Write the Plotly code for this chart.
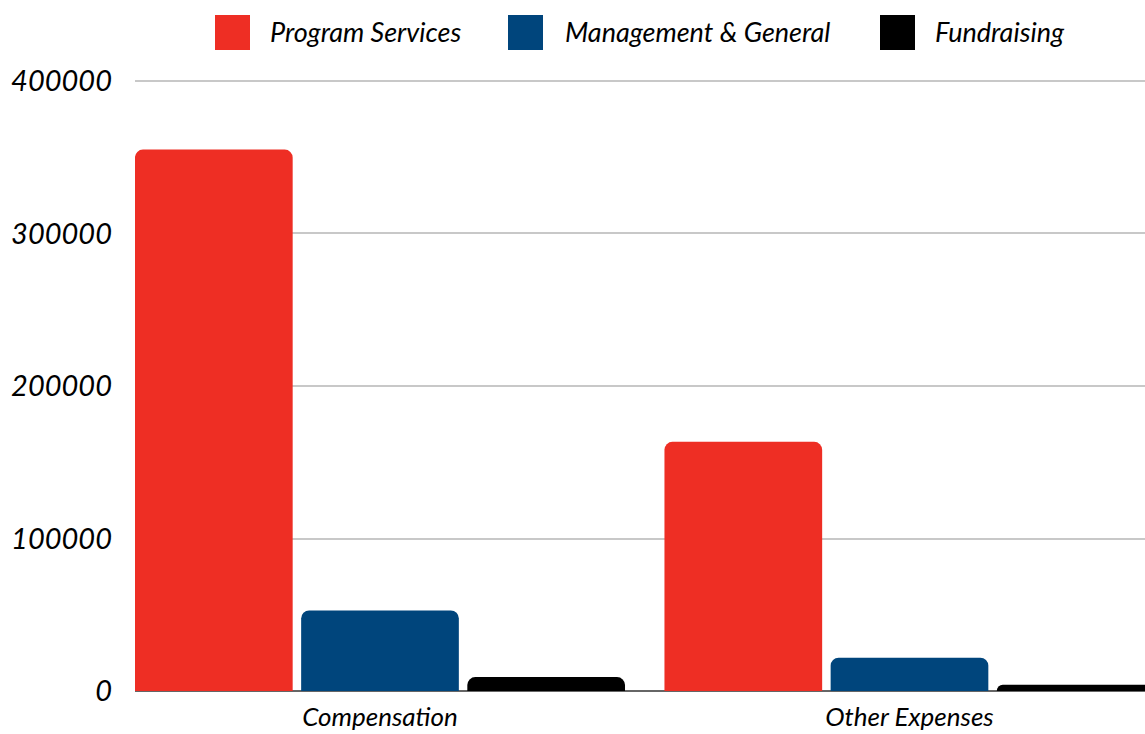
import plotly.graph_objects as go

categories = ["Compensation", "Other Expenses"]
series_names = ["Program Services", "Management & General", "Fundraising"]
program_services = [355000, 163400]
management_general = [52800, 21800]
fundraising = [9100, 4100]
y_ticks = [0, 100000, 200000, 300000, 400000]

colors = ["#EE2E24", "#00457C", "#000000"]
values = [program_services, management_general, fundraising]

W, H = 1145, 734
L, R, T, B = 135, 0, 79, 43
FONT = dict(family="Lato, 'Open Sans', sans-serif", style="italic", color="#000000")

fig = go.Figure()
for name, vals, col in zip(series_names, values, colors):
    fig.add_trace(go.Bar(name=name, x=categories, y=vals,
                         marker=dict(color=col, cornerradius=8, line=dict(width=0)),
                         showlegend=False))

pw, ph = W - L - R, H - T - B
def px(x):
    return (x - L) / pw
def py(y):
    return (H - B - y) / ph

# manual legend (large square swatches), positions in screen pixels
legend_items = [(215, 268), (508, 563), (880, 933)]
for (sx, tx), name, col in zip(legend_items, series_names, colors):
    fig.add_shape(type="rect", xref="paper", yref="paper",
                  x0=px(sx), x1=px(sx + 35), y0=py(50), y1=py(15),
                  fillcolor=col, line=dict(width=0))
    fig.add_annotation(xref="paper", yref="paper", x=px(tx), y=py(31),
                       xanchor="left", yanchor="middle", showarrow=False,
                       text=name, font=dict(**FONT, size=27))

fig.update_layout(
    width=W, height=H,
    margin=dict(l=L, r=R, t=T, b=B, autoexpand=False),
    paper_bgcolor="white", plot_bgcolor="white",
    barmode="group", bargap=0.0585, bargroupgap=0.051,
    font=FONT,
)
fig.update_xaxes(range=[-0.4627, 1.4448], showgrid=False, showline=False,
                 ticks="", tickfont=dict(**FONT, size=26), ticklabelstandoff=8)
fig.update_yaxes(range=[0, 401300], tickvals=y_ticks, ticktext=[str(v) for v in y_ticks],
                 showgrid=True, gridcolor="#c8c8c8", gridwidth=1.5,
                 zeroline=True, zerolinecolor="#666666", zerolinewidth=2,
                 showline=False, ticks="", tickfont=dict(**FONT, size=29),
                 ticklabelstandoff=22)

fig.write_html("out.html", config={"displayModeBar": False},
               post_script="document.body.style.margin='0';document.body.style.overflow='hidden';")
